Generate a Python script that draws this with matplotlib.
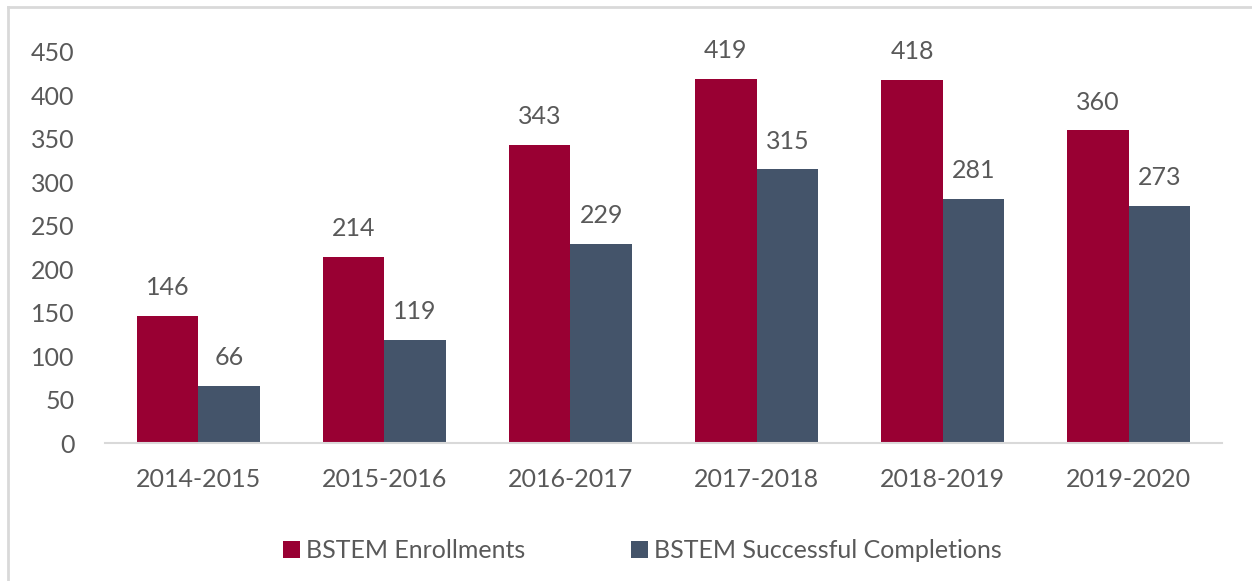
import matplotlib.pyplot as plt
import numpy as np
from matplotlib.lines import Line2D

years = ["2014-2015", "2015-2016", "2016-2017", "2017-2018", "2018-2019", "2019-2020"]
enrollments = [146, 214, 343, 419, 418, 360]
completions = [66, 119, 229, 315, 281, 273]

RED = "#990033"
SLATE = "#44546A"
TEXT = "#595959"


def main():
    plt.rcParams["font.family"] = ["Lato", "DejaVu Sans"]
    fig = plt.figure(figsize=(12.52, 5.81), dpi=100)
    ax = fig.add_axes([0.084, 0.2375, 0.892, 0.673])

    x = np.arange(len(years))
    w = 0.33
    b1 = ax.bar(x - w / 2, enrollments, w, color=RED, label="BSTEM Enrollments")
    b2 = ax.bar(x + w / 2, completions, w, color=SLATE,
                label="BSTEM Successful Completions")
    for bars in (b1, b2):
        ax.bar_label(bars, padding=12, fontsize=18, color=TEXT)

    ax.set_xlim(-0.5, len(years) - 0.5)
    ax.set_ylim(0, 450)
    ax.set_yticks(range(0, 451, 50))
    ax.set_xticks(x, years)
    ax.tick_params(length=0, labelsize=18, labelcolor=TEXT)
    ax.tick_params(axis="x", pad=18)
    ax.tick_params(axis="y", pad=22)
    for s in ("top", "right", "left"):
        ax.spines[s].set_visible(False)
    ax.spines["bottom"].set_color("#D9D9D9")
    ax.spines["bottom"].set_linewidth(1.5)

    fig.legend(loc="center", bbox_to_anchor=(0.513, 0.052), ncol=2,
               frameon=False, fontsize=18, labelcolor=TEXT,
               handlelength=0.7, handleheight=0.7, handletextpad=0.25,
               columnspacing=4.2)

    # light frame on the left and top edge of the picture
    fig.add_artist(Line2D([0.006, 0.006], [0, 0.988], color="#D9D9D9",
                          lw=2, transform=fig.transFigure))
    fig.add_artist(Line2D([0.006, 1], [0.988, 0.988], color="#D9D9D9",
                          lw=2, transform=fig.transFigure))

    fig.savefig("out.png", dpi=100)


if __name__ == "__main__":
    main()
